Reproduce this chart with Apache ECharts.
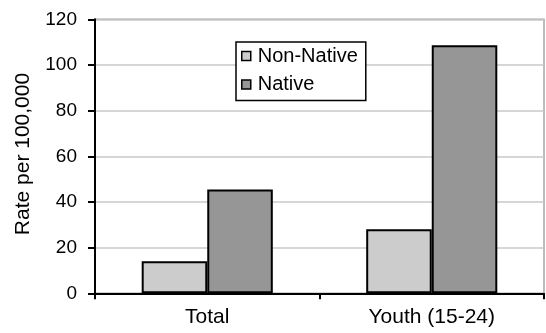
<!DOCTYPE html>
<html>
<head>
<meta charset="utf-8">
<script src="https://cdn.jsdelivr.net/npm/echarts@6/dist/echarts.min.js"></script>
<style>
  html, body { margin: 0; padding: 0; background: #fff; }
  #chart { width: 546px; height: 333px; }
</style>
</head>
<body>
<div id="chart"></div>
<script>
// Rates per 100,000 by group
const categories = ['Total', 'Youth (15-24)'];
const nonNative = [14.0, 28.0];
const native = [45.5, 108.6];
const yTicks = { min: 0, max: 120, interval: 20 };
const yTitle = 'Rate per 100,000';

const font = "'Liberation Sans', Arial, sans-serif";
const chart = echarts.init(document.getElementById('chart'), null, { renderer: 'canvas' });

chart.setOption({
  animation: false,
  backgroundColor: '#ffffff',
  textStyle: { fontFamily: font, color: '#000' },
  // vertical axis title, drawn as rotated text left of the tick labels
  graphic: [
    {
      type: 'text', x: 23, y: 154, rotation: Math.PI / 2,
      style: {
        text: yTitle, font: "21px 'Liberation Sans', Arial, sans-serif",
        fill: '#000', align: 'center', verticalAlign: 'middle'
      }
    }
  ],
  grid: {
    left: 95, right: 2, top: 19.3, bottom: 39.7,
    show: true, borderColor: '#a6a6a6', borderWidth: 1.5, backgroundColor: 'transparent'
  },
  legend: {
    orient: 'vertical',
    left: 236, top: 42,
    width: 134,
    padding: [4, 8, 6, 5],
    itemGap: 8.5,
    itemWidth: 9, itemHeight: 9,
    icon: 'rect',
    backgroundColor: '#ffffff',
    borderColor: '#000', borderWidth: 1.5,
    textStyle: { fontFamily: font, fontSize: 20, color: '#000', lineHeight: 20, padding: [0, 0, 0, 2] },
    itemStyle: { borderColor: '#000', borderWidth: 1.5 },
    data: ['Non-Native', 'Native']
  },
  xAxis: {
    type: 'category',
    data: categories,
    axisLine: { lineStyle: { color: '#000', width: 2 } },
    axisTick: { show: true, length: 6, lineStyle: { color: '#000', width: 2 } },
    axisLabel: { fontFamily: font, fontSize: 21, color: '#000', margin: 13 },
    splitLine: { show: false }
  },
  yAxis: {
    type: 'value',
    min: yTicks.min, max: yTicks.max, interval: yTicks.interval,
    axisLine: { show: true, lineStyle: { color: '#000', width: 2 } },
    axisTick: { show: true, length: 7, lineStyle: { color: '#000', width: 2 } },
    axisLabel: { fontFamily: font, fontSize: 19, color: '#000', margin: 18, padding: [0, 0, 5, 0] },
    splitLine: { show: true, lineStyle: { color: '#c8c8c8', width: 1.5 } }
  },
  series: [
    {
      name: 'Non-Native', type: 'bar', data: nonNative,
      barGap: '0%', barCategoryGap: '41.6%',
      itemStyle: { color: '#cccccc', borderColor: '#000', borderWidth: 2 }
    },
    {
      name: 'Native', type: 'bar', data: native,
      barGap: '0%', barCategoryGap: '41.6%',
      itemStyle: { color: '#969696', borderColor: '#000', borderWidth: 2 }
    }
  ]
});
</script>
</body>
</html>
